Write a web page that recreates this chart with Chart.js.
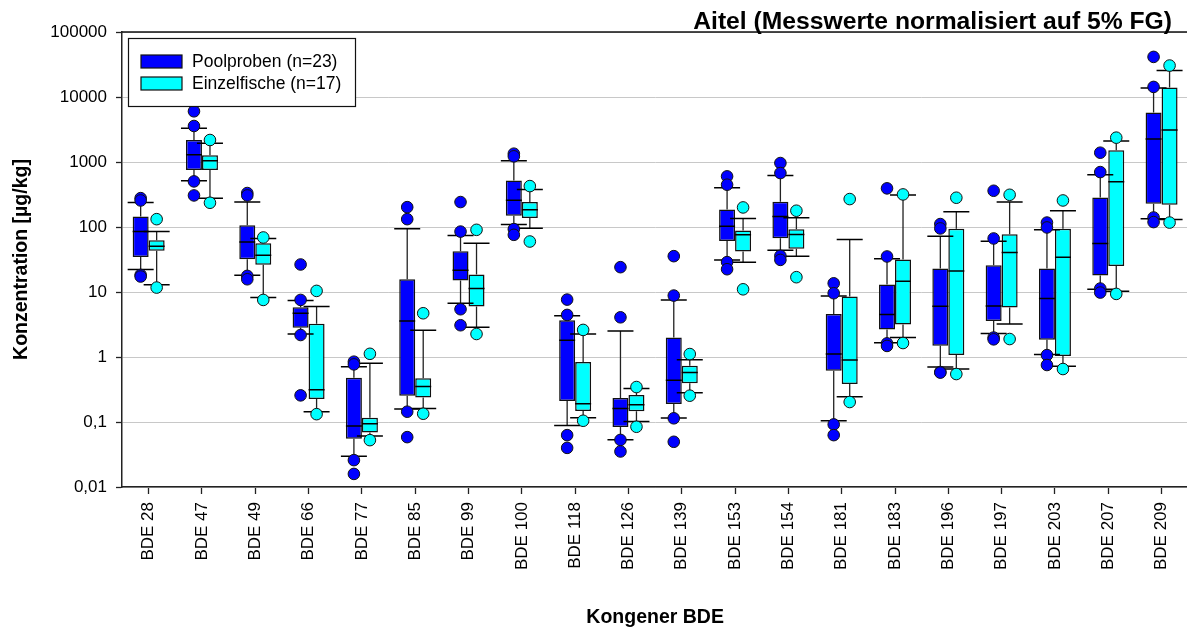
<!DOCTYPE html>
<html>
<head>
<meta charset="utf-8">
<script src="https://cdn.jsdelivr.net/npm/chart.js@4.4.1/dist/chart.umd.min.js"></script>
<style>
  html, body { margin: 0; padding: 0; background: #fff; overflow: hidden; }
  canvas { display: block; }
</style>
</head>
<body>
<canvas id="boxChart" width="1190" height="630"></canvas>
<script>
// Kongenere (x-Achse)
const labels = ['BDE 28', 'BDE 47', 'BDE 49', 'BDE 66', 'BDE 77', 'BDE 85', 'BDE 99', 'BDE 100', 'BDE 118', 'BDE 126',
  'BDE 139', 'BDE 153', 'BDE 154', 'BDE 181', 'BDE 183', 'BDE 196', 'BDE 197', 'BDE 203', 'BDE 207', 'BDE 209'];

// Poolproben (n=23): Whisker unten, Q1, Median, Q3, Whisker oben, Ausreisser
const poolLow = [22.2, 515, 18.1, 2.26, 0.0298, 0.158, 6.71, 109, 0.0885, 0.0532, 0.115, 31.2, 44, 0.1045, 1.66, 0.70, 2.29, 1.09, 11.0, 134];
const poolQ1 = [34.7, 751, 32, 2.83, 0.0552, 0.254, 15, 149, 0.21, 0.0834, 0.189, 61, 67.3, 0.616, 2.64, 1.49, 3.59, 1.85, 17.9, 228];
const poolMedian = [85, 1294, 59, 4.71, 0.0865, 3.59, 21.6, 259, 1.81, 0.162, 0.437, 103, 145, 1.11, 4.49, 6.04, 6.1, 7.92, 55.7, 2260];
const poolQ3 = [145, 2180, 106, 5.82, 0.48, 15.7, 42.5, 521, 3.67, 0.233, 1.99, 186, 244, 4.6, 13, 23, 25.9, 23, 285, 5750];
const poolHigh = [239, 3300, 242, 7.38, 0.71, 93.8, 74, 1047, 4.33, 2.52, 7.55, 402, 622, 8.71, 32.4, 72.3, 60.6, 90.5, 637, 13800];
const poolOutliers = [
  [278, 256, 18.3, 17.3], [6026, 3580, 503, 306], [333, 306, 17.7, 15.7], [26.5, 7.55, 2.18, 0.257],
  [0.847, 0.77, 0.0259, 0.0159], [202, 132, 0.144, 0.0585], [242, 85, 5.43, 3.08], [1343, 1222, 92.7, 75.8],
  [7.64, 4.44, 0.0628, 0.040], [24.1, 4.08, 0.053, 0.0352], [35.6, 8.81, 0.114, 0.0496], [601, 447, 28.8, 22.4],
  [964, 676, 36, 31.2], [13.6, 9.57, 0.0918, 0.0628], [393, 35.2, 1.62, 1.48], [111, 95, 0.587, 0.575],
  [361, 66.6, 1.99, 1.87], [117, 98.4, 1.07, 0.753], [1390, 700, 11.3, 9.8], [41400, 14290, 140, 119]
];

// Einzelfische (n=17)
const fishLow = [12.9, 278, 8.2, 0.144, 0.0607, 0.162, 2.87, 96, 0.116, 0.102, 0.282, 28.8, 35.6, 0.245, 1.99, 0.653, 3.22, 0.718, 10.3, 131];
const fishQ1 = [43, 751, 26.2, 0.225, 0.069, 0.239, 5.97, 137, 0.147, 0.146, 0.393, 42, 46.2, 0.384, 3.15, 1.07, 5.75, 1.04, 25.2, 220];
const fishMedian = [50.7, 1047, 36.9, 0.314, 0.094, 0.353, 11.3, 184, 0.191, 0.184, 0.58, 75.8, 76.7, 0.9, 14.6, 21.1, 40.5, 34.3, 497, 3110];
const fishQ3 = [62.8, 1265, 56.4, 3.26, 0.116, 0.469, 18.6, 242, 0.838, 0.26, 0.735, 88.5, 92.7, 8.5, 31.6, 93.8, 77.6, 93.8, 1511, 13960];
const fishHigh = [85, 1936, 66.6, 5.97, 0.798, 2.58, 56.4, 379, 2.26, 0.329, 0.91, 135, 139, 64.3, 310, 171, 242, 178, 2104, 25500];
const fishOutliers = [
  [132, 11.7], [2180, 236], [69, 7.55], [10.4, 0.132], [1.12, 0.0526], [4.71, 0.134], [90.5, 2.26], [426, 59.8],
  [2.61, 0.1045], [0.345, 0.0845], [1.11, 0.254], [200, 11], [178, 16.9], [269, 0.203], [317, 1.64], [282, 0.547],
  [313, 1.89], [256, 0.653], [2368, 9.35], [30460, 117]
];

// y-Achse
const yTickValues = [0.01, 0.1, 1, 10, 100, 1000, 10000, 100000];
const yTickLabels = ['0,01', '0,1', '1', '10', '100', '1000', '10000', '100000'];

const seriesNames = ['Poolproben (n=23)', 'Einzelfische (n=17)'];
const seriesColors = ['#0000ff', '#00ffff'];

const FONT = '"Liberation Sans", Arial, Helvetica, sans-serif';

const series = [
  { low: poolLow, med: poolMedian, high: poolHigh, out: poolOutliers, color: seriesColors[0] },
  { low: fishLow, med: fishMedian, high: fishHigh, out: fishOutliers, color: seriesColors[1] }
];

// whiskers, caps, medians and outlier dots on top of the floating bars
const boxExtras = {
  id: 'boxExtras',
  afterDatasetsDraw(chart) {
    const ctx = chart.ctx;
    const y = chart.scales.y;
    const capHalf = 13;
    ctx.save();
    series.forEach((s, d) => {
      chart.getDatasetMeta(d).data.forEach((bar, i) => {
        const p = bar.getProps(['x', 'y', 'base', 'width'], true);
        const top = Math.min(p.y, p.base), bottom = Math.max(p.y, p.base);
        const yHigh = y.getPixelForValue(s.high[i]);
        const yLow = y.getPixelForValue(s.low[i]);
        ctx.strokeStyle = '#222';
        ctx.lineWidth = 1.3;
        ctx.beginPath();
        ctx.moveTo(p.x, yHigh); ctx.lineTo(p.x, top);
        ctx.moveTo(p.x, bottom); ctx.lineTo(p.x, yLow);
        ctx.stroke();
        ctx.strokeStyle = '#000';
        ctx.lineWidth = 1.5;
        ctx.beginPath();
        ctx.moveTo(p.x - capHalf, yHigh); ctx.lineTo(p.x + capHalf, yHigh);
        ctx.moveTo(p.x - capHalf, yLow); ctx.lineTo(p.x + capHalf, yLow);
        const yMed = y.getPixelForValue(s.med[i]);
        ctx.moveTo(p.x - p.width / 2, yMed); ctx.lineTo(p.x + p.width / 2, yMed);
        ctx.stroke();
      });
    });
    series.forEach((s, d) => {
      chart.getDatasetMeta(d).data.forEach((bar, i) => {
        const x = bar.getProps(['x'], true).x;
        s.out[i].forEach(v => {
          ctx.beginPath();
          ctx.arc(x, y.getPixelForValue(v), 5.8, 0, Math.PI * 2);
          ctx.fillStyle = s.color;
          ctx.fill();
          ctx.strokeStyle = '#111';
          ctx.lineWidth = 1;
          ctx.stroke();
        });
      });
    });
    ctx.restore();
  },
  afterDraw(chart) {
    const ctx = chart.ctx;
    const a = chart.chartArea;
    ctx.save();
    // top frame line
    ctx.strokeStyle = '#111';
    ctx.lineWidth = 1.5;
    ctx.beginPath();
    ctx.moveTo(a.left, a.top); ctx.lineTo(a.right + 2, a.top);
    ctx.stroke();

    // title
    ctx.fillStyle = '#000';
    ctx.font = 'bold 24.7px ' + FONT;
    ctx.textAlign = 'right';
    ctx.textBaseline = 'alphabetic';
    ctx.fillText('Aitel (Messwerte normalisiert auf 5% FG)', 1172, 29);

    // legend box
    ctx.fillStyle = '#fff';
    ctx.fillRect(128.5, 38.5, 227, 68);
    ctx.strokeStyle = '#111';
    ctx.lineWidth = 1.2;
    ctx.strokeRect(128.5, 38.5, 227, 68);
    ctx.font = '17.5px ' + FONT;
    ctx.textAlign = 'left';
    ctx.textBaseline = 'middle';
    seriesNames.forEach((name, k) => {
      const ty = 55 + k * 22;
      ctx.fillStyle = seriesColors[k];
      ctx.fillRect(141, ty, 41, 13);
      ctx.strokeStyle = '#111';
      ctx.lineWidth = 1.2;
      ctx.strokeRect(141, ty, 41, 13);
      ctx.fillStyle = '#000';
      ctx.fillText(name, 192, ty + 7);
    });
    ctx.restore();
  }
};

new Chart(document.getElementById('boxChart'), {
  type: 'bar',
  data: {
    labels: labels,
    datasets: [
      {
        label: seriesNames[0],
        data: labels.map((_, i) => [poolQ1[i], poolQ3[i]]),
        backgroundColor: seriesColors[0],
        borderColor: '#111',
        borderWidth: 1.5,
        borderSkipped: false,
        categoryPercentage: 0.6,
        barPercentage: 1.0
      },
      {
        label: seriesNames[1],
        data: labels.map((_, i) => [fishQ1[i], fishQ3[i]]),
        backgroundColor: seriesColors[1],
        borderColor: '#111',
        borderWidth: 1.5,
        borderSkipped: false,
        categoryPercentage: 0.6,
        barPercentage: 1.0
      }
    ]
  },
  options: {
    responsive: false,
    animation: false,
    devicePixelRatio: 1,
    layout: { padding: { top: 32, right: 1, left: 0, bottom: 0 } },
    plugins: {
      legend: { display: false },
      title: { display: false },
      tooltip: { enabled: false }
    },
    scales: {
      x: {
        type: 'category',
        grid: { drawOnChartArea: false, offset: false, tickLength: 7, tickColor: '#222', tickWidth: 1.3 },
        border: { display: true, color: '#222', width: 1.5 },
        ticks: {
          autoSkip: false, minRotation: 90, maxRotation: 90, padding: 8,
          color: '#000', font: { family: FONT, size: 17 }
        },
        title: {
          display: true, text: 'Kongener BDE', color: '#000',
          font: { family: FONT, size: 19.5, weight: 'bold' }, padding: { top: 0, bottom: 1 }
        },
        afterFit(scale) { scale.height = 143; }
      },
      y: {
        type: 'logarithmic',
        min: 0.01,
        max: 100000,
        grid: { color: '#c8c8c8', lineWidth: 1, tickLength: 6, tickColor: '#222', tickWidth: 1.3 },
        border: { display: true, color: '#222', width: 1.5 },
        afterBuildTicks(scale) { scale.ticks = yTickValues.map(v => ({ value: v })); },
        ticks: {
          padding: 9, color: '#000', font: { family: FONT, size: 17 },
          callback: (value, index) => yTickLabels[index]
        },
        title: {
          display: true, text: 'Konzentration [µg/kg]', color: '#000',
          font: { family: FONT, size: 19.5, weight: 'bold' }, padding: { top: 10, bottom: 0 }
        },
        afterFit(scale) { scale.width = 122; }
      }
    }
  },
  plugins: [boxExtras]
});
</script>
</body>
</html>
